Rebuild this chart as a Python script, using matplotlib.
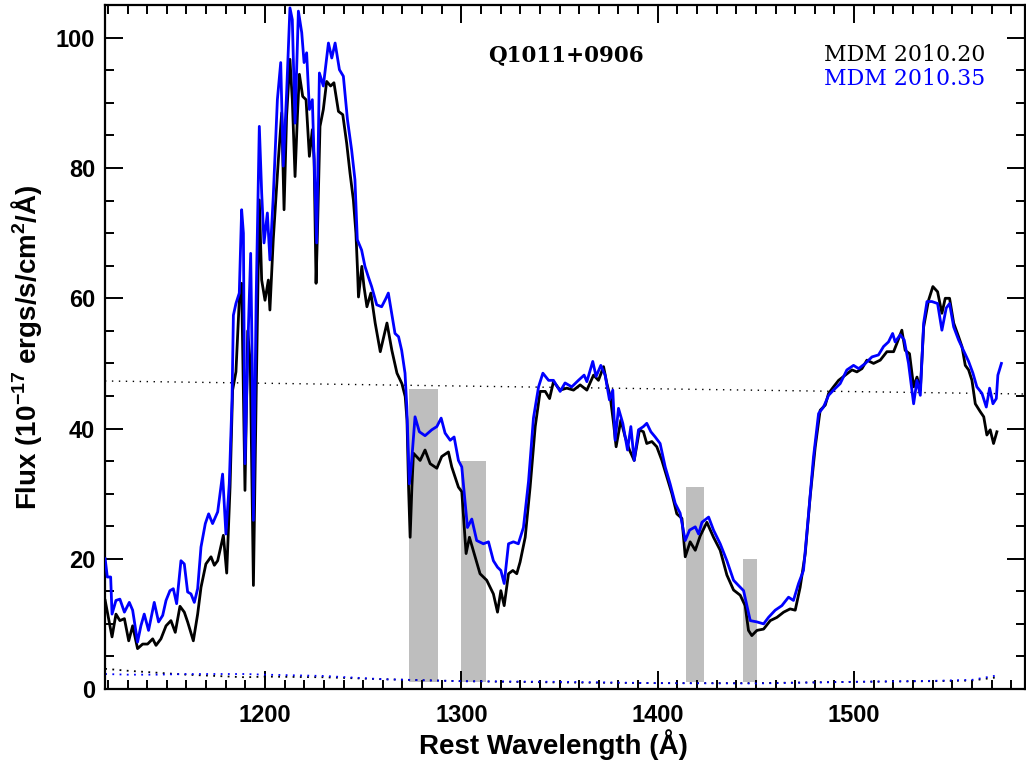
import matplotlib
matplotlib.use("Agg")
import matplotlib.pyplot as plt
from matplotlib.ticker import MultipleLocator

# --------------------------
# spectra (rest wavelength in Angstrom, flux in 1e-17 erg/s/cm2/A)
# --------------------------
wave_20 = [1118.6, 1119.9, 1122.1, 1124.1, 1126.1, 1128.4, 1130.6, 1132.6, 1135.1, 1137.7,
           1140.2, 1142.8, 1144.5, 1147.0, 1149.6, 1152.1, 1154.3, 1156.7, 1158.9, 1160.6,
           1163.5, 1165.7, 1167.4, 1169.9, 1172.5, 1174.2, 1175.9, 1177.6, 1178.8, 1180.5,
           1182.2, 1183.5, 1185.2, 1186.9, 1188.1, 1189.8, 1191.2, 1192.5, 1194.1, 1195.5,
           1197.1, 1198.3, 1200.0, 1201.7, 1202.5, 1204.2, 1206.8, 1208.5, 1209.7, 1211.0,
           1212.7, 1213.9, 1215.3, 1216.5, 1217.5, 1219.2, 1220.9, 1222.6, 1224.1, 1225.0,
           1226.0, 1226.7, 1228.0, 1229.7, 1231.4, 1233.4, 1235.1, 1237.4, 1239.6, 1241.6,
           1243.3, 1245.0, 1246.3, 1247.1, 1247.6, 1249.3, 1250.4, 1251.9, 1253.9, 1256.1,
           1258.7, 1262.1, 1264.6, 1267.2, 1269.7, 1271.4, 1272.3, 1273.1, 1273.9, 1274.8,
           1275.6, 1279.0, 1281.5, 1284.1, 1287.5, 1290.0, 1293.4, 1295.1, 1298.5, 1300.2,
           1302.4, 1304.1, 1307.0, 1309.5, 1312.9, 1316.3, 1318.4, 1320.1, 1321.8, 1324.0,
           1326.2, 1328.2, 1329.9, 1332.5, 1335.0, 1337.6, 1340.1, 1342.7, 1344.9, 1346.9,
           1350.3, 1353.7, 1357.1, 1360.5, 1363.9, 1367.3, 1369.8, 1372.4, 1374.1, 1375.8,
           1377.5, 1378.8, 1381.2, 1383.4, 1385.6, 1388.0, 1390.7, 1392.7, 1394.4, 1397.0,
           1399.5, 1402.1, 1404.6, 1407.2, 1409.7, 1412.3, 1414.0, 1416.5, 1419.1, 1421.6,
           1425.0, 1428.4, 1431.8, 1435.2, 1438.6, 1442.0, 1444.5, 1446.2, 1447.9, 1450.5,
           1453.9, 1457.3, 1460.7, 1464.1, 1467.4, 1470.0, 1472.5, 1475.1, 1477.6, 1480.2,
           1482.7, 1485.3, 1487.0, 1489.5, 1492.1, 1495.5, 1498.9, 1501.4, 1504.0, 1506.5,
           1509.9, 1513.3, 1516.7, 1520.1, 1521.8, 1524.3, 1526.0, 1528.2, 1530.3, 1532.0,
           1533.7, 1535.4, 1537.9, 1540.1, 1542.5, 1544.7, 1546.4, 1548.6, 1550.7, 1553.2,
           1554.9, 1556.6, 1558.3, 1560.0, 1561.7, 1564.2, 1566.0, 1567.6, 1569.3, 1571.0,
           1572.7]
flux_20 = [13.6, 11.5, 8.0, 11.5, 10.5, 10.8, 7.4, 9.7, 6.2, 6.9,
           6.9, 7.7, 6.7, 7.7, 9.7, 10.5, 8.7, 12.7, 11.8, 10.3,
           7.4, 11.5, 15.6, 19.2, 20.3, 19.0, 19.7, 22.0, 23.6, 17.8,
           31.0, 45.9, 48.7, 59.7, 62.3, 30.5, 55.0, 50.0, 15.9, 45.0,
           75.1, 62.8, 59.7, 62.8, 58.2, 69.0, 81.3, 88.5, 73.6, 88.0,
           96.7, 90.5, 78.7, 88.0, 94.4, 91.0, 90.5, 81.8, 85.9, 81.3,
           62.3, 70.0, 86.4, 89.0, 93.3, 92.6, 93.1, 88.7, 88.2, 83.8,
           79.2, 75.1, 70.0, 64.4, 60.2, 64.9, 61.8, 58.7, 60.8, 56.2,
           51.8, 56.2, 52.0, 48.5, 46.9, 44.9, 41.3, 31.0, 23.3, 31.0,
           36.2, 35.1, 36.7, 34.6, 33.9, 35.7, 36.4, 34.1, 31.0, 30.3,
           20.8, 23.3, 20.3, 17.7, 16.7, 14.6, 11.8, 15.1, 12.8, 17.7,
           18.2, 17.7, 19.5, 23.3, 31.0, 40.3, 45.7, 45.7, 44.6, 47.2,
           45.9, 46.2, 45.9, 46.7, 45.9, 48.2, 47.4, 49.5, 46.9, 44.9,
           40.8, 37.2, 41.3, 38.7, 36.7, 35.1, 39.8, 39.5, 37.7, 38.0,
           37.2, 35.1, 32.6, 30.0, 26.9, 26.2, 20.3, 22.6, 21.3, 23.5,
           25.6, 23.3, 21.3, 17.5, 15.2, 14.4, 12.8, 9.0, 8.2, 9.0,
           9.2, 10.5, 11.0, 11.8, 12.3, 12.1, 15.6, 20.8, 29.5, 37.2,
           42.8, 43.6, 45.4, 46.4, 47.4, 48.2, 49.0, 48.7, 49.2, 50.5,
           50.0, 50.5, 51.8, 51.8, 53.1, 55.1, 52.0, 51.5, 46.4, 47.9,
           45.9, 55.6, 59.7, 61.8, 61.0, 57.7, 60.0, 60.0, 56.2, 54.1,
           52.6, 49.7, 49.0, 47.4, 43.8, 42.6, 41.8, 39.0, 39.8, 37.7,
           39.5]

wave_35 = [1118.6, 1119.7, 1121.4, 1122.1, 1124.1, 1126.1, 1128.4, 1130.9, 1132.6, 1135.1,
           1136.8, 1138.5, 1140.7, 1143.6, 1145.8, 1147.9, 1149.6, 1151.6, 1153.3, 1155.0,
           1157.2, 1158.9, 1160.6, 1162.3, 1164.0, 1165.7, 1167.4, 1169.6, 1171.3, 1173.3,
           1175.9, 1178.4, 1180.1, 1181.8, 1183.2, 1183.9, 1185.2, 1186.9, 1188.1, 1189.0,
           1189.8, 1191.5, 1192.7, 1193.5, 1194.1, 1195.5, 1197.1, 1198.3, 1199.5, 1201.2,
           1202.5, 1204.2, 1206.3, 1208.0, 1209.3, 1211.0, 1212.7, 1213.9, 1215.3, 1217.0,
           1218.7, 1219.9, 1221.2, 1222.6, 1224.1, 1225.5, 1226.3, 1227.7, 1229.7, 1232.3,
           1234.0, 1235.7, 1237.9, 1239.9, 1242.0, 1244.1, 1245.8, 1247.0, 1249.2, 1250.9,
           1252.6, 1254.3, 1256.9, 1259.4, 1261.6, 1262.8, 1264.5, 1266.2, 1268.0, 1269.6,
           1271.3, 1272.2, 1273.5, 1274.7, 1276.4, 1278.6, 1281.5, 1284.9, 1287.5, 1289.7,
           1291.7, 1294.3, 1296.3, 1298.5, 1300.2, 1303.1, 1305.3, 1307.8, 1311.2, 1313.8,
           1316.3, 1318.4, 1320.1, 1321.8, 1324.0, 1326.5, 1329.0, 1331.6, 1334.2, 1336.7,
           1339.3, 1341.5, 1344.4, 1346.9, 1350.3, 1352.8, 1356.2, 1359.6, 1362.5, 1363.9,
           1366.9, 1368.6, 1371.0, 1373.2, 1375.4, 1377.1, 1378.3, 1380.0, 1382.2, 1384.6,
           1386.3, 1388.0, 1390.2, 1392.7, 1394.4, 1396.5, 1398.7, 1401.2, 1403.8, 1406.3,
           1408.9, 1411.4, 1414.0, 1416.2, 1419.1, 1420.8, 1422.5, 1425.9, 1428.4, 1431.8,
           1435.2, 1438.6, 1441.1, 1443.7, 1447.1, 1450.5, 1453.9, 1456.4, 1459.8, 1463.2,
           1466.6, 1469.1, 1471.7, 1474.2, 1476.8, 1479.3, 1481.9, 1484.4, 1487.0, 1489.5,
           1492.9, 1496.3, 1499.7, 1502.3, 1505.7, 1509.1, 1512.4, 1515.0, 1517.5, 1519.6,
           1520.9, 1523.5, 1525.5, 1527.7, 1530.3, 1532.0, 1533.7, 1535.4, 1537.1, 1539.6,
           1542.5, 1544.7, 1546.9, 1548.6, 1550.7, 1553.2, 1555.7, 1558.3, 1560.5, 1562.5,
           1565.1, 1567.3, 1569.0, 1570.7, 1572.4, 1573.2, 1575.0]
flux_35 = [20.0, 17.2, 17.2, 11.5, 13.6, 13.8, 11.8, 13.3, 12.1, 7.2,
           9.7, 11.5, 9.0, 13.3, 10.3, 11.3, 13.6, 15.1, 15.4, 13.1,
           19.7, 19.2, 14.9, 14.6, 13.3, 15.4, 21.8, 25.4, 26.9, 25.4,
           27.2, 33.0, 23.8, 31.5, 44.4, 57.4, 59.2, 60.8, 73.6, 70.0,
           34.6, 55.0, 66.9, 50.0, 25.9, 60.0, 86.4, 76.2, 68.5, 73.1,
           65.9, 75.6, 90.5, 96.2, 80.3, 91.5, 104.6, 102.8, 86.9, 104.1,
           100.8, 96.2, 97.7, 89.0, 90.5, 76.2, 68.5, 94.6, 92.6, 99.2,
           96.9, 99.2, 95.1, 94.1, 87.4, 82.8, 78.2, 69.0, 67.4, 64.9,
           63.3, 61.8, 59.0, 58.7, 60.0, 60.8, 57.7, 54.6, 54.1, 52.0,
           48.5, 43.4, 31.5, 35.1, 41.8, 39.5, 38.9, 39.8, 40.3, 41.6,
           39.3, 38.2, 38.7, 35.1, 34.1, 24.8, 26.1, 22.8, 22.3, 22.6,
           19.7, 18.7, 18.2, 16.2, 22.3, 22.6, 22.3, 24.8, 31.9, 41.6,
           46.4, 48.5, 47.4, 47.4, 45.7, 47.0, 46.4, 47.4, 48.2, 47.2,
           50.3, 48.0, 49.7, 48.2, 44.4, 45.9, 38.2, 43.1, 40.8, 36.7,
           40.3, 35.1, 39.8, 40.3, 40.8, 39.5, 38.7, 37.7, 34.1, 31.5,
           28.5, 27.0, 22.8, 24.4, 24.9, 23.8, 25.6, 26.4, 24.4, 22.3,
           19.7, 16.7, 15.9, 15.1, 10.5, 10.3, 10.0, 11.0, 12.1, 12.8,
           14.1, 13.6, 16.2, 18.2, 26.9, 35.6, 42.3, 43.3, 45.1, 45.9,
           46.9, 49.0, 49.7, 49.2, 50.0, 51.0, 51.3, 52.6, 53.3, 54.6,
           53.3, 54.4, 53.6, 50.0, 43.8, 47.4, 45.1, 56.2, 59.5, 59.5,
           59.2, 55.1, 58.5, 59.2, 55.6, 53.6, 52.0, 50.3, 48.5, 46.4,
           45.4, 43.3, 46.2, 43.8, 44.6, 48.2, 50.0]

# error spectra
err_wave = [1118.6, 1130, 1145, 1160, 1175, 1190, 1200, 1230, 1260, 1300,
            1350, 1400, 1450, 1500, 1540, 1560, 1573]
err_20 = [3.1, 2.8, 2.5, 2.2, 2.0, 1.8, 1.9, 1.8, 1.5, 1.2,
          1.0, 0.9, 0.9, 1.1, 1.2, 1.3, 1.8]
err_35 = [2.3, 2.2, 2.2, 2.3, 2.3, 2.3, 2.2, 2.0, 1.5, 1.2,
          1.1, 0.9, 0.85, 1.1, 1.25, 1.4, 2.1]

# continuum level
cont_wave = [1118.5, 1587.0]
cont_flux = [47.3, 45.3]

# shaded absorption windows
band_lo = [1273.5, 1299.9, 1414.5, 1443.5]
band_hi = [1288.1, 1312.6, 1423.5, 1450.5]
band_top = [46.0, 35.0, 31.0, 20.0]
band_base = 1.0

label_font = ["Liberation Sans", "DejaVu Sans"]
plt.rcParams["mathtext.fontset"] = "custom"
plt.rcParams["mathtext.rm"] = "Liberation Sans:bold"
plt.rcParams["mathtext.default"] = "rm"


def main():
    fig = plt.figure(figsize=(10.26, 7.63), dpi=100)
    ax = fig.add_axes([0.1023, 0.097, 0.8967, 0.8961])

    for lo, hi, top in zip(band_lo, band_hi, band_top):
        ax.bar((lo + hi) / 2, top - band_base, width=hi - lo, bottom=band_base,
               color="#bebebe", edgecolor="none", zorder=1)

    ax.plot(cont_wave, cont_flux, color="black", lw=1.0, ls=(0, (1, 4)), zorder=2)
    ax.plot(err_wave, err_20, color="black", lw=1.3, ls=(0, (1, 3)), zorder=2)
    ax.plot(err_wave, err_35, color="blue", lw=1.3, ls=(0, (1, 3)), zorder=2)

    ax.plot(wave_20, flux_20, color="black", lw=2.0, zorder=3)
    ax.plot(wave_35, flux_35, color="blue", lw=2.0, zorder=4)

    ax.set_xlim(1118.5, 1587)
    ax.set_ylim(0, 105)
    ax.set_xticks([1200, 1300, 1400, 1500])
    ax.set_yticks([0, 20, 40, 60, 80, 100])
    ax.xaxis.set_minor_locator(MultipleLocator(10))
    ax.yaxis.set_minor_locator(MultipleLocator(5))
    ax.tick_params(which="both", direction="in", top=True, right=True, width=1.4)
    ax.tick_params(which="major", length=13)
    ax.tick_params(which="minor", length=6.5)
    ax.tick_params(axis="x", pad=11)
    ax.tick_params(axis="y", pad=7)
    for lab in ax.get_xticklabels() + ax.get_yticklabels():
        lab.set_fontfamily(["Liberation Sans", "DejaVu Sans"])
        lab.set_fontweight("bold")
        lab.set_fontsize(17)
    for sp in ax.spines.values():
        sp.set_linewidth(1.6)

    fig.text(553 / 1026, 1 - 745 / 763, "Rest Wavelength (Å)", ha="center", va="center",
             fontsize=20, fontweight="bold", family=label_font)
    fig.text(27 / 1026, 1 - 347 / 763, r"Flux (10$^{-17}$ ergs/s/cm$^{2}$/Å)",
             rotation=90, ha="center", va="center",
             fontsize=20, fontweight="bold", family=label_font)

    ax.text(566 / 1026, 1 - 55 / 763, "Q1011+0906", transform=fig.transFigure,
            ha="center", va="center", fontsize=15.5, fontweight="bold",
            family="DejaVu Serif")
    ax.text(824 / 1026, 1 - 55 / 763, "MDM 2010.20", transform=fig.transFigure,
            ha="left", va="center", fontsize=15.8, color="black", family="DejaVu Serif")
    ax.text(824 / 1026, 1 - 79 / 763, "MDM 2010.35", transform=fig.transFigure,
            ha="left", va="center", fontsize=15.8, color="blue", family="DejaVu Serif")

    fig.savefig("out.png", dpi=100)
    plt.close(fig)


if __name__ == "__main__":
    main()
